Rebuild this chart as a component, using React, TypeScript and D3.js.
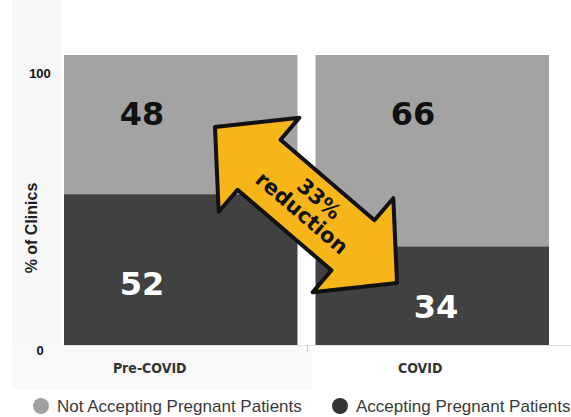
import React from "react";
import * as d3 from "d3";

const categories = ["Pre-COVID", "COVID"];
const notAccepting = [48, 66];
const accepting = [52, 34];
const yTicks = [0, 100];
const seriesNames = ["Not Accepting Pregnant Patients", "Accepting Pregnant Patients"];
const annotation = ["33%", "reduction"];

const W = 571, H = 417;
const LIGHT = "#a3a3a3", DARK = "#414141";

export default function App() {
  const x = d3.scaleBand<string>().domain(categories).range([64, 549]).paddingInner(0.0716).paddingOuter(0);
  const y = d3.scaleLinear().domain([0, 100]).range([345, 55]);
  const bw = x.bandwidth();
  const labelDx = [-31, -12];

  const tip1: [number, number] = [215, 127];
  const tip2: [number, number] = [397, 283];
  const dx = tip2[0] - tip1[0], dy = tip2[1] - tip1[1];
  const L = Math.hypot(dx, dy);
  const ang = (Math.atan2(dy, dx) * 180) / Math.PI;
  const hl = 58, hw = 62, sw = 33;
  const pts: [number, number][] = [
    [0, 0], [hl, -hw], [hl, -sw], [L - hl, -sw], [L - hl, -hw], [L, 0],
    [L - hl, hw], [L - hl, sw], [hl, sw], [hl, hw],
  ];
  const arrowPath = d3.line().curve(d3.curveLinearClosed)(pts) || "";

  const numFont = "'DejaVu Sans', sans-serif";

  return (
    <svg width={W} height={H} style={{ display: "block", position: "absolute", left: 0, top: 0, background: "#fff" }}>
      <rect x={12} y={0} width={50} height={390} fill="#f8f8f8" />
      <rect x={12} y={345} width={300} height={45} fill="#f9f9f9" />
      <line x1={62} x2={571} y1={345.5} y2={345.5} stroke="#e0e0e0" />
      <line x1={307.5} x2={307.5} y1={345} y2={352} stroke="#c8c8c8" />
      {categories.map((c, i) => (
        <g key={c}>
          <rect x={x(c)} y={y(100)} width={bw} height={y(accepting[i]) - y(100)} fill={LIGHT} />
          <rect x={x(c)} y={y(accepting[i])} width={bw} height={y(0) - y(accepting[i])} fill={DARK} />
          <text x={(x(c) as number) + bw / 2 + labelDx[i]} y={373} textAnchor="middle" fontFamily="'DejaVu Sans Condensed', sans-serif" fontWeight="bold" fontSize={14} fill="#333">{c}</text>
        </g>
      ))}
      <text x={142} y={125} textAnchor="middle" fontFamily={numFont} fontWeight="bold" fontSize={32} fill="#111">{notAccepting[0]}</text>
      <text x={142} y={295} textAnchor="middle" fontFamily={numFont} fontWeight="bold" fontSize={32} fill="#fff">{accepting[0]}</text>
      <text x={413} y={125} textAnchor="middle" fontFamily={numFont} fontWeight="bold" fontSize={32} fill="#111">{notAccepting[1]}</text>
      <text x={436} y={318} textAnchor="middle" fontFamily={numFont} fontWeight="bold" fontSize={32} fill="#fff">{accepting[1]}</text>

      <g transform={`translate(${tip1[0]},${tip1[1]}) rotate(${ang})`}>
        <path d={arrowPath} fill="#f6b519" stroke="#111" strokeWidth={4} strokeLinejoin="round" />
        <text x={L / 2 + 6} y={-6} textAnchor="middle" fontFamily={numFont} fontWeight="bold" fontSize={21} fill="#111">{annotation[0]}</text>
        <text x={L / 2 + 2} y={16} textAnchor="middle" fontFamily={numFont} fontWeight="bold" fontSize={21} fill="#111">{annotation[1]}</text>
      </g>

      {yTicks.map((t) => (
        <text key={t} x={40} y={t === 100 ? 78 : 355} textAnchor="middle" fontFamily="'Liberation Sans', sans-serif" fontWeight="bold" fontSize={13} fill="#111">{t}</text>
      ))}
      <text transform="translate(37,228) rotate(-90)" textAnchor="middle" fontFamily="'Liberation Sans', sans-serif" fontWeight="bold" fontSize={16} fill="#222">% of Clinics</text>

      <circle cx={41} cy={406} r={8} fill="#a0a0a0" />
      <text x={57} y={412} fontFamily="'Liberation Sans', sans-serif" fontSize={17} fill="#3a3a3a">{seriesNames[0]}</text>
      <circle cx={340} cy={406} r={8} fill="#333" />
      <text x={356} y={412} fontFamily="'Liberation Sans', sans-serif" fontSize={17} fill="#3a3a3a">{seriesNames[1]}</text>
    </svg>
  );
}
